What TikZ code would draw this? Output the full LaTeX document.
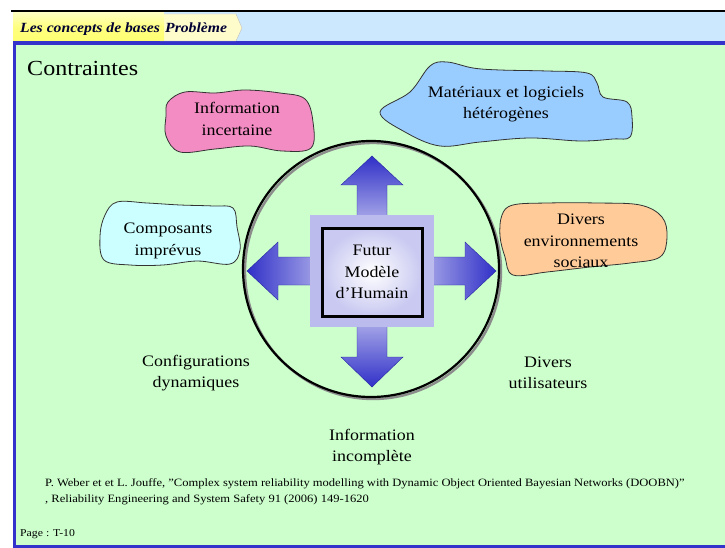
\documentclass[tikz,border=0pt]{standalone}
\usepackage{fontspec}
\setmainfont[FakeStretch=1.12]{Liberation Serif}
\usepackage{tikz}
\usetikzlibrary{positioning,shapes}

\definecolor{bggreen}{HTML}{CCFFCC}
\definecolor{barblue}{HTML}{3333CC}
\definecolor{headblue}{HTML}{CCE8FF}
\definecolor{arrowdark}{HTML}{3030C8}
\definecolor{arrowlight}{HTML}{BBBBEE}
\definecolor{cloudpink}{HTML}{F48CC4}
\definecolor{cloudblue}{HTML}{99CCFF}
\definecolor{cloudcyan}{HTML}{CCFFFF}
\definecolor{cloudorange}{HTML}{FFCC99}

\begin{document}
\begin{tikzpicture}[
    x=1pt, y=-1pt,
    blob/.style={draw=black!80, line width=0.8pt},
    label/.style={align=center, font=\fontsize{16}{21.5}\selectfont},
    arrowshape/.style={draw=arrowdark!80!black, line width=0.4pt},
    tabtext/.style={anchor=base west, font=\fontsize{14}{16}\selectfont\bfseries\itshape, text=blue!20!black, inner sep=0pt}
]
    \useasboundingbox (0,0) rectangle (725,548);
    \fill[white] (0,0) rectangle (725,548);

    % frame and header
    \fill[bggreen] (16,45) rectangle (725,545);
    \fill[headblue] (13,12) rectangle (725,41);
    \fill[barblue] (13,41) rectangle (725,45);
    \fill[barblue] (13,41) rectangle (16,548);
    \fill[barblue] (13,545) rectangle (725,548);
    \draw[line width=1.5pt] (11,11) -- (725,11);

    % tab
    \draw[black!25, fill=yellow!20] (160,14) -- (236,14) -- (242,28) -- (236,41) -- (160,41) -- cycle;
    \fill[top color=yellow!25, bottom color=yellow!55, middle color=yellow!50] (13,13) rectangle (164,41);
    \node[tabtext] (tabA) at (20,33) {Les concepts de bases};
    \node[tabtext] (tabB) at (165,33) {Problème};

    \node[anchor=west, inner sep=0pt, font=\fontsize{21.5}{24}\selectfont] (title) at (27,68) {Contraintes};

    % clouds
    \draw[blob, fill=cloudpink] plot[smooth cycle, tension=0.6] coordinates {
        (168,102) (185,92) (215,93) (245,90) (280,93) (305,99) (313,122) (311,148)
        (282,151) (250,146) (215,149) (180,152) (166,136) (166,116)};
    \draw[blob, fill=cloudblue] plot[smooth cycle, tension=0.6] coordinates {
        (380,112) (410,92) (430,66) (447,62) (473,68) (500,70) (547,71) (587,73)
        (597,83) (603,97) (627,102) (632,117) (630,137) (613,139) (580,141) (530,138)
        (480,142) (440,146) (405,132)};
    \draw[blob, fill=cloudcyan] plot[smooth cycle, tension=0.6] coordinates {
        (105,215) (117,202) (147,203) (180,205) (213,206) (233,208) (237,227) (240,250)
        (230,264) (197,261) (163,265) (130,265) (104,260) (100,236)};
    \draw[blob, fill=cloudorange] plot[smooth cycle, tension=0.6] coordinates {
        (502,215) (513,205) (547,203) (597,203) (640,205) (662,217) (667,237) (660,257)
        (630,263) (590,267) (547,272) (513,275) (505,257) (500,236)};

    \node[label] (incert) at (237,119) {Information\\incertaine};
    \node[label] (materiel) at (506,104) {Matériaux et  logiciels\\hétérogènes};
    \node[label] (compo) at (168,241) {Composants\\imprévus};
    \node[label] (social) at (581,241) {Divers\\environnements\\sociaux};

    % circle
    \draw[black!45, line width=2.4pt] (373,271) circle (128);
    \draw[line width=2.2pt] (371,269) circle (128);

    % cross of arrows
    \draw[arrowshape, left color=arrowlight, right color=arrowdark]
        (412,257) -- (465,257) -- (465,242) -- (496,271) -- (465,300) -- (465,285) -- (412,285) -- cycle;
    \draw[arrowshape, right color=arrowlight, left color=arrowdark]
        (332,257) -- (278,257) -- (278,242) -- (247,271) -- (278,300) -- (278,285) -- (332,285) -- cycle;
    \draw[arrowshape, bottom color=arrowlight, top color=arrowdark]
        (357,230) -- (357,185) -- (341,185) -- (372,156) -- (403,185) -- (387,185) -- (387,230) -- cycle;
    \draw[arrowshape, top color=arrowlight, bottom color=arrowdark]
        (357,312) -- (357,357) -- (341,357) -- (372,387) -- (403,357) -- (387,357) -- (387,312) -- cycle;
    \fill[arrowlight] (310,215) rectangle (434,327);
    \node[draw, line width=3pt, inner color=white, outer color=arrowlight!80,
          minimum width=100pt, minimum height=88pt, label] (futur) at (372,272) {Futur\\Modèle\\d’Humain};

    \node[label] (config) at (196,373) {Configurations\\dynamiques};
    \node[label] (users) at (548,373) {Divers\\utilisateurs};
    \node[label] (incompl) at (372,447) {Information\\incomplète};

    % reference and page
    \node[anchor=north west, align=left, inner sep=0pt, font=\fontsize{11.2}{16}\selectfont] (biblio) at (45,478)
        {P. Weber et et L. Jouffe, ”Complex system reliability modelling with Dynamic Object Oriented Bayesian Networks (DOOBN)”\\
         , Reliability Engineering and System Safety 91 (2006) 149-1620};
    \node[anchor=west, inner sep=0pt, font=\fontsize{10.5}{12}\selectfont] (page) at (20,534) {Page : T-10};
\end{tikzpicture}
\end{document}
